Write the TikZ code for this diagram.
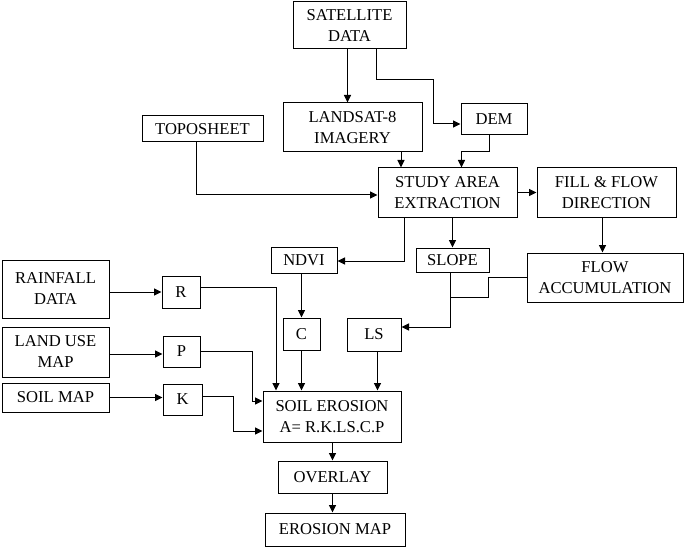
\documentclass[tikz,border=0pt]{standalone}
\usepackage{fontspec}
\setmainfont{Liberation Serif}
\usetikzlibrary{arrows.meta,calc}

\tikzset{every picture/.style={line width=1pt}}
\tikzset{
  blk/.style={draw, align=center, inner sep=0pt, font=\fontsize{16.6}{21}\selectfont},
  arr/.style={-{Triangle[length=7.5pt,width=7pt]}}
}

\begin{document}
\begin{tikzpicture}[x=1pt,y=1pt,yscale=-1,xscale=1]
%set diagram left start at 0, and has height of 548
\useasboundingbox (0,0) rectangle (685,548);

%Shape: Rectangle (inputs)
\node [blk, minimum width=113, minimum height=47] (sat) at (349.5,25.5) {SATELLITE\\DATA};
\node [blk, minimum width=139, minimum height=49] (landsat) at (352.5,127.5) {LANDSAT-8\\IMAGERY};
\node [blk, minimum width=121, minimum height=26] (topo) at (202.5,129) {TOPOSHEET};
\node [blk, minimum width=66, minimum height=31] (dem) at (494,119.5) {DEM};
%Shape: Rectangle (processing)
\node [blk, minimum width=139, minimum height=49] (study) at (447.5,192.5) {STUDY AREA\\EXTRACTION};
\node [blk, minimum width=139, minimum height=49] (fill) at (606.5,192.5) {FILL \& FLOW\\DIRECTION};
\node [blk, minimum width=66, minimum height=26] (ndvi) at (304,260) {NDVI};
\node [blk, minimum width=73, minimum height=24] (slope) at (452.5,260) {SLOPE};
\node [blk, minimum width=156, minimum height=49] (flowacc) at (605,277.5) {FLOW\\ACCUMULATION};
%Shape: Rectangle (factors)
\node [blk, minimum width=107, minimum height=58] (rain) at (55.5,289) {RAINFALL\\DATA};
\node [blk, minimum width=38, minimum height=32] (r) at (181,292) {R};
\node [blk, minimum width=107, minimum height=50] (landuse) at (55.5,352) {LAND USE\\MAP};
\node [blk, minimum width=37, minimum height=31] (p) at (181.5,351.5) {P};
\node [blk, minimum width=107, minimum height=29] (soilmap) at (55.5,397.5) {SOIL MAP};
\node [blk, minimum width=39, minimum height=31] (k) at (182.5,399.5) {K};
\node [blk, minimum width=37, minimum height=32] (c) at (301.5,334) {C};
\node [blk, minimum width=54, minimum height=33] (ls) at (374,334.5) {LS};
%Shape: Rectangle (output)
\node [blk, minimum width=138, minimum height=51] (soil) at (332,416.5) {SOIL EROSION\\A= R.K.LS.C.P};
\node [blk, minimum width=109, minimum height=32] (overlay) at (332.5,477) {OVERLAY};
\node [blk, minimum width=140, minimum height=33] (emap) at (335,529.5) {EROSION MAP};
\coordinate (join) at (450,297);

%Straight Lines
\draw [arr] ($(sat.south)+(-2,0)$) -- ($(landsat.north)+(-5,0)$);
\draw [arr] ($(sat.south)+(27,0)$) |- (433,80) |- ($(dem.west)+(0,4.5)$);
\draw [arr] ($(landsat.south)+(48.5,0)$) -- ($(study.north)+(-46.5,0)$);
\draw [arr] ($(dem.south)+(-5,0)$) -- ++(0,16.5) -| ($(study.north)+(14,0)$);
\draw [arr] ($(topo.south)+(-6,0)$) |- ($(study.west)+(0,2.5)$);
\draw [arr] (study) -- (fill);
\draw [arr] ($(fill.south)+(-4,0)$) -- ($(flowacc.north)+(-2.5,0)$);
\draw [arr] (slope.north |- study.south) -- (slope.north);
\draw [arr] ($(study.south)+(-43.5,0)$) |- ($(ndvi.east)+(0,1)$);
\draw (flowacc.west) -- ++(-38,0) |- (join);
\draw [arr] ($(slope.south)+(-2.5,0)$) |- ($(ls.east)+(0,-7.5)$);
\draw [arr] (c.north |- ndvi.south) -- (c.north);
\draw [arr] (c.south) -- (c.south |- soil.north);
\draw [arr] ($(ls.south)+(3.5,0)$) -- ($(soil.north)+(45.5,0)$);
%Elbow Lines (factors)
\draw [arr] (rain.east |- r.west) -- (r.west);
\draw [arr] ($(r.east)+(0,-5)$) -| ($(soil.north)+(-56,0)$);
\draw [arr] ($(landuse.east)+(0,2)$) -- ($(p.west)+(0,2.5)$);
\draw [arr] (p.east) -- ++(52,0) |- ($(soil.west)+(0,-15.5)$);
\draw [arr] (soilmap.east) -- (k.west |- soilmap.east);
\draw [arr] ($(k.east)+(0,-3.5)$) -- ++(31,0) |- ($(soil.west)+(0,14.5)$);
%Straight Lines (output)
\draw [arr] (overlay.north |- soil.south) -- (overlay.north);
\draw [arr] (overlay.south) -- (overlay.south |- emap.north);

\end{tikzpicture}
\end{document}
